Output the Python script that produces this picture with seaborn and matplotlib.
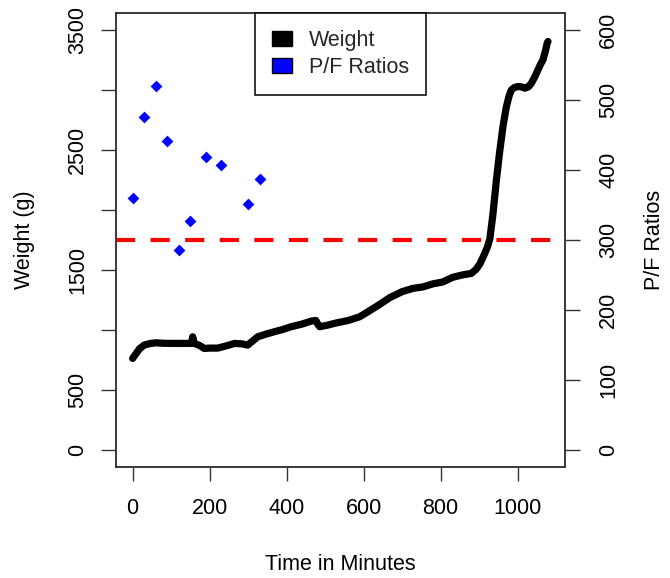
import numpy as np
import pandas as pd
import matplotlib
matplotlib.use("Agg")
import matplotlib.pyplot as plt
from matplotlib.patches import Patch
import seaborn as sns

# weight track (minutes, grams)
minutes = [0, 8, 18, 30, 45, 61, 80, 108, 130, 150, 153, 156, 160, 175, 186, 200,
           221, 245, 265, 285, 299, 310, 325, 345, 368, 390, 412, 440, 464, 476,
           481, 486, 505, 530, 560, 590, 615, 640, 668, 700, 728, 755, 780, 805,
           832, 858, 880, 892, 902, 915, 922, 928, 936, 945, 953, 962, 971, 978, 984,
           992, 1001, 1010, 1019, 1028, 1036, 1045, 1053, 1060, 1066, 1072, 1077, 1079]
weight = [764, 800, 845, 875, 888, 894, 890, 889, 889, 889, 889, 944, 890, 870, 847, 850,
          850, 870, 889, 885, 875, 905, 944, 965, 986, 1005, 1028, 1050, 1075, 1080,
          1050, 1028, 1040, 1060, 1080, 1111, 1160, 1210, 1270, 1320, 1347, 1360, 1385, 1400,
          1440, 1460, 1472, 1505, 1550, 1640, 1695, 1760, 1965, 2250, 2472, 2694, 2861, 2950, 3000,
          3020, 3028, 3025, 3014, 3025, 3056, 3110, 3167, 3215, 3250, 3320, 3389, 3403]

# P/F ratio samples
pf_minutes = [0, 30, 60, 90, 120, 150, 190, 230, 300, 330]
pf_ratio = [360, 476, 520, 441, 286, 327, 419, 407, 352, 387]
pf_threshold = 300

x_ticks = [0, 200, 400, 600, 800, 1000]
weight_ticks = [0, 500, 1000, 1500, 2000, 2500, 3000, 3500]
weight_tick_labels = ["0", "500", "", "1500", "", "2500", "", "3500"]
pf_ticks = [0, 100, 200, 300, 400, 500, 600]

weight_df = pd.DataFrame({"minutes": minutes, "weight": weight})
pf_df = pd.DataFrame({"minutes": pf_minutes, "ratio": pf_ratio})

sns.set_theme(style="ticks")
plt.rcParams["font.family"] = ["Liberation Sans", "DejaVu Sans"]
plt.rcParams["axes.edgecolor"] = "#333333"
plt.rcParams["axes.linewidth"] = 1.1

fig = plt.figure(figsize=(6.7, 5.78), dpi=100)
ax = fig.add_axes([116 / 670, 1 - 467 / 578, 449 / 670, 454 / 578])
ax2 = ax.twinx()

sns.lineplot(data=weight_df, x="minutes", y="weight", estimator=None, sort=True,
             color="black", linewidth=5.2, solid_capstyle="round",
             solid_joinstyle="round", ax=ax)
sns.scatterplot(data=pf_df, x="minutes", y="ratio", marker="D", s=36,
                color="blue", linewidth=0, ax=ax2)
ax2.axhline(pf_threshold, color="red", linewidth=3, dashes=(4.6, 3.7),
            dash_capstyle="butt")

ax.set_xlim(-43.2, 1123.2)
ax.set_ylim(-140, 3640)
ax2.set_ylim(-24, 624)

ax.set_xticks(x_ticks)
ax.set_xticklabels([str(v) for v in x_ticks])
ax.set_yticks(weight_ticks)
ax.set_yticklabels(weight_tick_labels)
ax2.set_yticks(pf_ticks)
ax2.set_yticklabels([str(v) for v in pf_ticks])

fs = 15.5
ax.tick_params(axis="x", length=10, width=1, color="#333333", labelsize=fs,
               pad=12, labelcolor="black")
ax.tick_params(axis="y", length=10.5, width=1, color="#333333", labelsize=fs,
               pad=9.4, labelrotation=90, labelcolor="black")
ax2.tick_params(axis="y", length=10.5, width=1, color="#333333", labelsize=fs,
                pad=13.5, labelrotation=90, labelcolor="black")
for lbl in ax.get_yticklabels() + ax2.get_yticklabels():
    lbl.set_va("center")

ax.set_xlabel("Time in Minutes", fontsize=fs, color="black")
ax.set_ylabel("Weight (g)", fontsize=fs, color="black")
ax2.set_ylabel("P/F Ratios", fontsize=fs, color="black")
ax.xaxis.set_label_coords(0.5, -0.192)
ax.yaxis.set_label_coords(-0.18, 0.5)
ax2.yaxis.set_label_coords(1.176, 0.5)

handles = [Patch(facecolor="black", edgecolor="black", linewidth=1),
           Patch(facecolor="blue", edgecolor="black", linewidth=1)]
leg = ax2.legend(handles, ["Weight", "P/F Ratios"], loc="upper center",
                 bbox_to_anchor=(0.5, 1.0), borderaxespad=0, fancybox=False,
                 framealpha=1, edgecolor="black", fontsize=fs,
                 handlelength=0.9, handleheight=0.7, labelspacing=0.25,
                 handletextpad=0.8, borderpad=0.8)
leg.get_frame().set_linewidth(1.1)

fig.savefig("out.png", dpi=100, facecolor="white")
